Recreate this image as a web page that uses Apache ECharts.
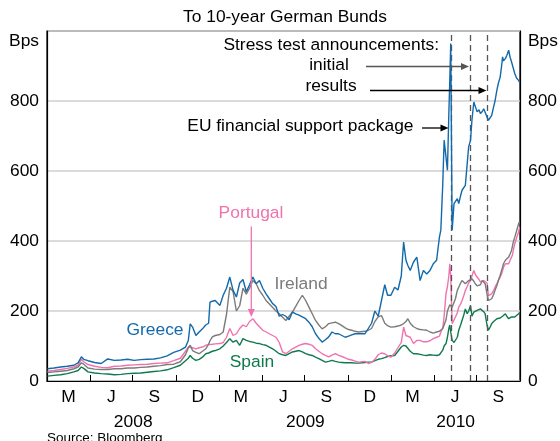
<!DOCTYPE html>
<html><head><meta charset="utf-8">
<script src="https://cdn.jsdelivr.net/npm/echarts@6/dist/echarts.min.js"></script>
<style>html,body{margin:0;padding:0;background:#fff}#c{width:560px;height:441px}</style>
</head><body><div id="c"></div>
<script>
// ---- Data (basis points spread to 10-year German Bunds) ----
const dates = [
'2008-01-02','2008-01-16','2008-01-30','2008-02-13','2008-02-27','2008-03-07','2008-03-14','2008-03-19','2008-03-28','2008-04-11',
'2008-04-25','2008-05-09','2008-05-23','2008-06-06','2008-06-20','2008-07-04','2008-07-18','2008-08-01','2008-08-15','2008-08-29',
'2008-09-12','2008-09-26','2008-10-10','2008-10-21','2008-10-27','2008-10-31','2008-11-05','2008-11-12','2008-11-19','2008-11-26',
'2008-12-03','2008-12-09','2008-12-12','2008-12-17','2008-12-23','2009-01-02','2009-01-09','2009-01-16','2009-01-23','2009-01-30',
'2009-02-06','2009-02-13','2009-02-20','2009-02-27','2009-03-06','2009-03-13','2009-03-20','2009-03-27','2009-04-03','2009-04-10',
'2009-04-17','2009-04-24','2009-05-01','2009-05-08','2009-05-15','2009-05-22','2009-05-29','2009-06-05','2009-06-12','2009-06-19',
'2009-06-26','2009-07-03','2009-07-10','2009-07-17','2009-07-24','2009-07-31','2009-08-07','2009-08-14','2009-08-21','2009-08-28',
'2009-09-04','2009-09-11','2009-09-18','2009-09-25','2009-10-02','2009-10-09','2009-10-16','2009-10-23','2009-11-06','2009-11-13',
'2009-11-20','2009-11-27','2009-12-04','2009-12-11','2009-12-18','2009-12-24','2009-12-31','2010-01-08','2010-01-15','2010-01-22',
'2010-01-27','2010-02-01','2010-02-05','2010-02-10','2010-02-17','2010-02-24','2010-03-03','2010-03-10','2010-03-17','2010-03-24',
'2010-03-31','2010-04-07','2010-04-13','2010-04-16','2010-04-20','2010-04-23','2010-04-27','2010-04-30','2010-05-03','2010-05-05',
'2010-05-07','2010-05-10','2010-05-14','2010-05-17','2010-05-21','2010-05-24','2010-05-28','2010-05-31','2010-06-04','2010-06-07',
'2010-06-11','2010-06-14','2010-06-18','2010-06-21','2010-06-25','2010-06-28','2010-07-02','2010-07-06','2010-07-09','2010-07-13',
'2010-07-16','2010-07-19','2010-07-23','2010-07-26','2010-07-30','2010-08-02','2010-08-06','2010-08-09','2010-08-13','2010-08-16',
'2010-08-20','2010-08-23','2010-08-25','2010-08-27','2010-08-31','2010-09-03','2010-09-07','2010-09-10','2010-09-13','2010-09-15',
'2010-09-17','2010-09-20','2010-09-24','2010-09-28','2010-09-30'
];
const greece = [
35,37,40,42,45,52,69,62,58,53,
50,63,59,60,62,59,61,62,63,66,
72,82,88,97,116,163,154,130,140,149,
160,165,225,228,230,216,245,265,297,259,
240,280,290,255,275,297,278,287,265,249,
235,221,213,185,190,185,175,197,192,188,
183,178,168,155,135,122,111,118,126,140,
135,135,130,125,128,132,135,135,135,150,
165,200,185,230,275,245,245,268,260,300,
397,345,330,316,340,354,287,316,306,316,
335,345,411,431,560,688,688,602,764,859,
964,431,507,507,521,507,530,545,550,559,
564,669,688,745,797,792,769,775,764,770,
778,783,754,745,750,759,783,800,831,850,
869,900,926,915,921,930,945,925,912,916,
912,878,865,859,854
];
const portugal = [
28,30,33,36,40,45,62,55,47,42,
39,38,42,43,45,46,47,48,50,51,
52,58,65,85,97,97,95,92,95,97,
102,104,104,105,106,107,110,125,150,130,
135,150,160,155,170,178,165,155,145,140,
135,130,125,110,83,78,85,92,97,102,
105,107,105,102,92,85,78,73,69,74,
78,73,70,66,62,60,57,54,56,50,
53,62,75,80,78,72,68,80,95,110,
154,130,135,125,107,116,116,112,112,115,
121,125,128,140,150,185,250,270,300,335,
300,164,175,183,195,211,220,230,245,259,
270,280,287,300,316,305,297,290,283,285,
287,287,280,244,247,249,258,268,278,287,
297,306,315,325,335,333,335,345,354,360,
375,392,410,425,440
];
const ireland = [
24,26,28,30,35,40,52,48,37,34,
33,33,35,35,37,37,39,40,42,44,
47,48,55,75,95,102,87,82,78,85,
92,105,115,126,130,133,140,190,268,255,
200,215,265,248,265,287,278,258,245,230,
220,210,200,192,182,173,185,197,213,230,
245,230,211,192,173,160,149,155,164,166,
168,164,158,152,147,145,142,140,142,145,
150,170,183,187,165,158,154,155,157,160,
164,170,178,165,155,150,147,146,145,140,
137,140,142,145,150,160,175,200,211,218,
221,211,211,235,259,268,280,287,283,278,
283,287,290,292,285,278,272,268,275,287,
282,278,249,230,232,235,247,259,273,287,
302,316,325,335,345,350,354,363,373,385,
398,411,430,449,455
];
const spain = [
14,16,18,21,26,30,40,36,26,23,
21,20,18,19,21,22,23,25,27,29,
32,38,45,58,65,73,65,59,62,68,
78,80,82,85,87,92,100,110,121,111,
116,102,121,116,113,111,108,107,104,102,
97,92,85,78,75,73,78,83,85,87,
83,78,75,73,68,64,59,54,56,59,
56,54,53,52,52,52,51,51,53,54,
54,58,62,64,67,70,72,73,85,97,
102,100,95,85,78,78,76,74,73,75,
74,73,75,80,88,100,107,125,150,160,
140,116,110,107,125,145,160,173,190,206,
192,200,215,185,197,200,202,204,206,205,
198,192,160,145,155,164,170,174,178,178,
180,183,185,188,192,185,178,180,183,183,
183,183,188,192,195
];
const quarterLetters = {1: 'M', 4: 'J', 7: 'S', 10: 'D'};
const eventDates = ['2010-05-08', '2010-06-18', '2010-07-23'];
const axisStart = [2008, 0, 1];
const axisEnd = [2010, 9, 1];

// ---- Helpers ----
const FONT = '"Liberation Sans", Arial, sans-serif';
const FS = 17.4;
const t = (y, m, d) => new Date(y, m, d).getTime();
const ts = s => { const p = s.split('-').map(Number); return t(p[0], p[1] - 1, p[2]); };
const tMin = t(...axisStart), tMax = t(...axisEnd);
const quarterStarts = [], quarterMids = [], yearMids = [];
for (let y = 2008; y <= 2010; y++) {
  for (let m = 0; m < 12; m += 3) {
    const s = t(y, m, 1);
    if (s >= tMax) continue;
    quarterStarts.push(s);
    if (t(y, m + 3, 1) <= tMax) quarterMids.push((s + t(y, m + 3, 1)) / 2);
  }
  yearMids.push((t(y, 0, 1) + Math.min(t(y + 1, 0, 1), tMax)) / 2);
}
const mk = arr => dates.map((d, i) => [ts(d), arr[i]]);

const chart = echarts.init(document.getElementById('c'), null, {renderer: 'canvas'});
const lab = {fontFamily: FONT, fontSize: FS, color: '#000'};

function arrowH(x1, x2, y, color) {
  return [
    {type: 'line', shape: {x1: x1, y1: y, x2: x2 - 7, y2: y}, style: {stroke: color, lineWidth: 1.3}, z: 100},
    {type: 'polygon', shape: {points: [[x2, y], [x2 - 8, y - 3.5], [x2 - 8, y + 3.5]]}, style: {fill: color}, z: 100}
  ];
}
function arrowV(x, y1, y2, color) {
  return [
    {type: 'line', shape: {x1: x, y1: y1, x2: x, y2: y2 - 7}, style: {stroke: color, lineWidth: 1.3}, z: 100},
    {type: 'polygon', shape: {points: [[x, y2], [x - 3.5, y2 - 8], [x + 3.5, y2 - 8]]}, style: {fill: color}, z: 100}
  ];
}
function txt(x, y, s, color, align, size) {
  return {type: 'text', x: x, y: y, z: 100,
    style: {text: s, fill: color, fontFamily: FONT, fontSize: size || FS, align: align || 'center', verticalAlign: 'middle'}};
}

const C = {greece: '#1369aa', portugal: '#f172ae', ireland: '#7b7b7b', spain: '#0e7a4e'};

const yAxisBase = {
  type: 'value', min: 0, max: 1000, interval: 200,
  axisLine: {show: true, lineStyle: {color: '#000', width: 1.2}},
  axisTick: {show: false},
  splitLine: {show: true, lineStyle: {color: '#cfcfcf', width: 1.5}},
  axisLabel: Object.assign({}, lab, {margin: 8, formatter: v => (v === 1000 ? '' : String(v))})
};

chart.setOption({
  animation: false,
  backgroundColor: '#fff',
  grid: {left: 47, right: 38, top: 31, bottom: 60, show: true, borderColor: '#000', borderWidth: 1.2, backgroundColor: 'transparent'},
  xAxis: [
    {
      type: 'value', min: tMin, max: tMax, gridIndex: 0,
      axisLine: {show: true, lineStyle: {color: '#000', width: 1.2}},
      axisTick: {show: true, inside: true, length: 6, customValues: quarterStarts, lineStyle: {color: '#000', width: 1}},
      axisLabel: Object.assign({}, lab, {margin: 8, customValues: quarterMids, hideOverlap: false,
        formatter: v => quarterLetters[new Date(v).getMonth()] || ''}),
      splitLine: {show: false}
    },
    {
      type: 'value', min: tMin, max: tMax, gridIndex: 0, position: 'bottom', offset: 25,
      axisLine: {show: false}, axisTick: {show: false}, splitLine: {show: false},
      axisLabel: Object.assign({}, lab, {margin: 8, customValues: yearMids, hideOverlap: false,
        formatter: v => String(new Date(v).getFullYear())})
    }
  ],
  yAxis: [
    Object.assign({}, yAxisBase, {position: 'left'}),
    Object.assign({}, yAxisBase, {position: 'right', splitLine: {show: false}})
  ],
  series: [
    {name: 'Spain', type: 'line', data: mk(spain), showSymbol: false, lineStyle: {color: C.spain, width: 1.4}, z: 3},
    {name: 'Portugal', type: 'line', data: mk(portugal), showSymbol: false, lineStyle: {color: C.portugal, width: 1.4}, z: 4},
    {name: 'Ireland', type: 'line', data: mk(ireland), showSymbol: false, lineStyle: {color: C.ireland, width: 1.4}, z: 5},
    {name: 'Greece', type: 'line', data: mk(greece), showSymbol: false, lineStyle: {color: C.greece, width: 1.4}, z: 6,
      markLine: {silent: true, symbol: 'none', label: {show: false},
        lineStyle: {color: '#555', width: 1.3, type: [6, 4]},
        data: eventDates.map(d => ({xAxis: ts(d)}))}}
  ],
  graphic: [
    txt(285, 17, 'To 10-year German Bunds', '#000'),
    txt(39, 41, 'Bps', '#000', 'right'),
    txt(528, 41, 'Bps', '#000', 'left'),
    txt(439, 45, 'Stress test announcements:', '#000', 'right'),
    txt(329, 65, 'initial', '#000'),
    txt(331, 86, 'results', '#000'),
    txt(413.5, 126, 'EU financial support package', '#000', 'right'),
    txt(251, 213.5, 'Portugal', C.portugal),
    txt(301, 284, 'Ireland', C.ireland),
    txt(155, 330, 'Greece', C.greece),
    txt(252, 362, 'Spain', C.spain),
    txt(47, 438, 'Source: Bloomberg', '#000', 'left', 13.5),
    ...arrowH(366, 469, 66.5, '#555'),
    ...arrowH(370, 486.5, 90.5, '#000'),
    ...arrowH(422, 448.5, 128, '#000'),
    ...arrowV(251.3, 226.5, 317, C.portugal)
  ]
});
</script>
</body></html>
